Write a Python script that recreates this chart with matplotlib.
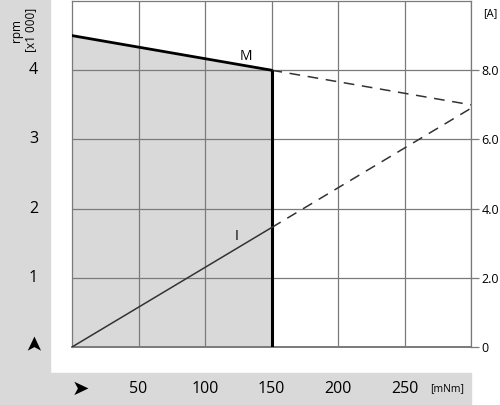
import matplotlib.pyplot as plt
from matplotlib.patches import Rectangle

# data
torque_cont = [0, 150]          # mNm
speed_cont = [4.5, 4.0]         # rpm x1000
torque_ext = [150, 300]
speed_ext = [4.0, 3.5]
current_cont = [0.0, 3.45]      # A
current_ext = [3.45, 6.9]

torque_ticks = [50, 100, 150, 200, 250]
rpm_ticks = [1, 2, 3, 4]
amp_ticks = [0, 2, 4, 6, 8]
amp_labels = ["0", "2.0", "4.0", "6.0", "8.0"]

GRAY = "#d9d9d9"
GRID = "#7a7a7a"
plt.rcParams['font.family'] = ['Open Sans', 'DejaVu Sans']

fig = plt.figure(figsize=(5.0, 4.05), dpi=100)
# grey label bands
fig.patches.append(Rectangle((0, 0), 50 / 500, 1, transform=fig.transFigure,
                             color=GRAY, zorder=-10))
fig.patches.append(Rectangle((0, 0), 471 / 500, 32 / 405, transform=fig.transFigure,
                             color=GRAY, zorder=-10))

ax = fig.add_axes([72 / 500, 58 / 405, 399 / 500, 346 / 405])
ax.set_xlim(0, 300)
ax.set_ylim(0, 5)
ax.set_facecolor("none")

# shaded continuous operation region
ax.fill_between(torque_cont, 0, speed_cont, color=GRAY, lw=0, zorder=0)

ax.set_xticks(torque_ticks + [300])
ax.set_yticks(rpm_ticks)
ax.grid(True, color=GRID, lw=0.9, zorder=1)
ax.tick_params(length=0, labelleft=False, labelbottom=False)
for s in ax.spines.values():
    s.set_color(GRID)
    s.set_linewidth(0.9)
ax.spines['bottom'].set_linewidth(1.4)

ax.plot(torque_cont, speed_cont, color="black", lw=2.0, zorder=4)
ax.plot(torque_ext, speed_ext, color="#333333", lw=1.1, ls=(0, (7, 5)), zorder=4)
ax.vlines(torque_cont[-1], 0, speed_cont[-1], color="black", lw=2.2, zorder=4)
ax.text(131, 4.2, "M", fontsize=10, ha="center", va="center")

ax2 = ax.twinx()
ax2.set_ylim(0, 10)
ax2.set_yticks(amp_ticks)
ax2.set_yticklabels(amp_labels, fontsize=9)
ax2.tick_params(axis="y", length=6, width=0.9, color=GRID, pad=1.5)
for s in ax2.spines.values():
    s.set_visible(False)
ax2.plot(torque_cont, current_cont, color="#333333", lw=1.1, zorder=4)
ax2.plot(torque_ext, current_ext, color="#333333", lw=1.1, ls=(0, (7, 5)), zorder=4)
ax2.text(124, 3.2, "I", fontsize=10, ha="center", va="center")

# left labels
for v in rpm_ticks:
    ax.text(-29, v, str(v), fontsize=11.5, ha="center", va="center", clip_on=False)
ax.text(-29, 0.08, "\u27a4", fontsize=15, ha="center", va="center", clip_on=False,
        rotation=90, family=["DejaVu Sans"])
fig.text(24 / 500, 1 - 30 / 405, "rpm\n[x1 000]", rotation=90, fontsize=8.5,
         ha="center", va="center", linespacing=1.1)

# bottom labels
for v in torque_ticks:
    fig.text((72 + v * 399 / 300) / 500, 16 / 405, str(v), fontsize=11.5,
             ha="center", va="center")
fig.text(80 / 500, 16 / 405, "\u27a4", fontsize=15, ha="center", va="center",
         family=["DejaVu Sans"])
fig.text(447 / 500, 16 / 405, "[mNm]", fontsize=7.5, ha="center", va="center")
fig.text(490 / 500, 1 - 14 / 405, "[A]", fontsize=8, ha="center", va="center")

fig.savefig("out.png", dpi=100)
